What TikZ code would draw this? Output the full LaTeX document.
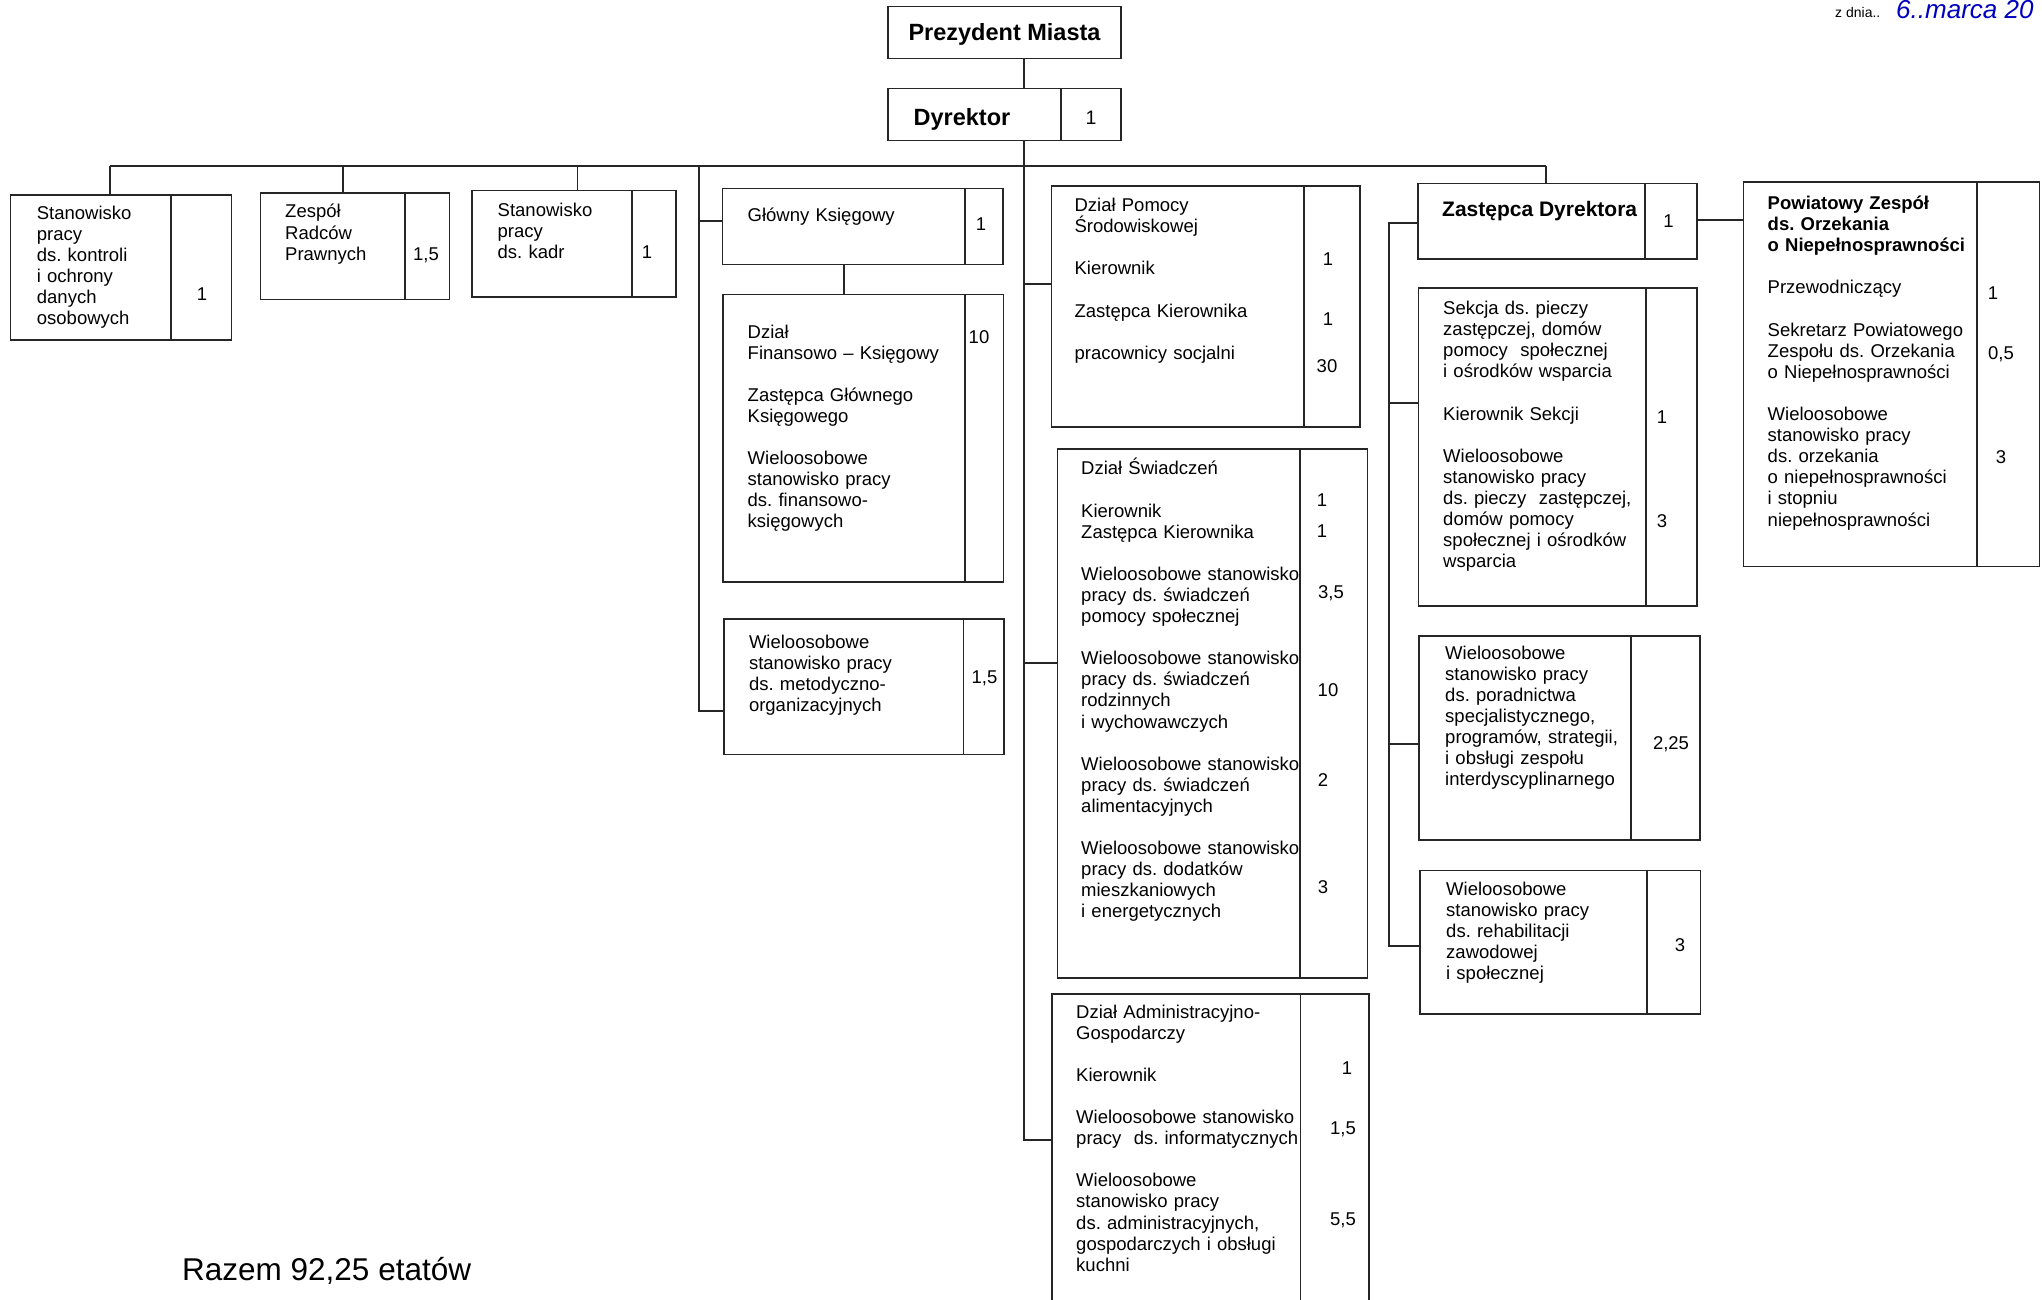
\documentclass[tikz,border=0pt]{standalone}
\usepackage{fontspec}
\setmainfont{Liberation Sans}
\frenchspacing
\newcommand\bodyf{\fontsize{18.5}{21.1}\selectfont\frenchspacing}
\newcommand\orgbox[6]{%
  \node[orgrect, minimum width={#4-#2}, minimum height={#5-#3}] (#1) at (#2,#3) {};
  \draw[ln] (#1.north -| #6,0) -- (#1.south -| #6,0);
}
\tikzset{
  ln/.style={line width=1.3pt, draw=black!85},
  orgrect/.style={ln, inner sep=0pt, outer sep=0pt, anchor=north west},
  txt/.style={anchor=base west, inner sep=0pt, text width=330pt, align=left, font=\bodyf},
  num/.style={anchor=base, inner sep=0pt, font=\bodyf},
}
\begin{document}
\begin{tikzpicture}[x=1pt,y=-1pt]
\useasboundingbox (0,0) rectangle (2042,1300);
\clip (0,0) rectangle (2042,1300);
\fill[white] (0,0) rectangle (2042,1300);

% ---- boxes ----
\node[orgrect, minimum width=233, minimum height=52] (pm) at (888,6.5) {};
\orgbox{dyr}{888}{88.6}{1121}{140.6}{1061}
\orgbox{b1}{10.5}{195}{231.5}{340}{171}
\orgbox{b2}{260.5}{193}{449.5}{299.5}{405}
\orgbox{b3}{472}{190.5}{676}{297}{632}
\orgbox{gk}{722.5}{188.5}{1003}{264.5}{965}
\orgbox{dfk}{723}{294.5}{1003.5}{582}{965}
\orgbox{met}{724}{619}{1004}{754.5}{963.5}
\orgbox{dps}{1051.5}{186}{1360}{427}{1304}
\orgbox{dsw}{1057.5}{449}{1367.5}{978}{1300}
\orgbox{adm}{1052}{994}{1369}{1320}{1300.5}
\orgbox{zd}{1418}{183.5}{1697}{259}{1645}
\orgbox{sek}{1418.5}{288}{1697}{606}{1646}
\orgbox{por}{1419}{636}{1700}{840}{1631}
\orgbox{reh}{1420}{870.5}{1700.5}{1014}{1647}
\orgbox{pz}{1743.5}{182}{2039.5}{566.5}{1977}

% ---- connectors ----
\coordinate (tk) at (1024,0);
\coordinate (tkend) at (1024,1140);
\coordinate (j1) at (1024,284);
\coordinate (j2) at (1024,663);
\draw[ln] (pm.south -| tk) -- (dyr.north -| tk);
\draw[ln] (dyr.south -| tk) -- (tkend) -- (tkend -| adm.west);
\draw[ln] (j1) -- (j1 -| dps.west);
\draw[ln] (j2) -- (j2 -| dsw.west);

\coordinate (busL) at (110,166);
\coordinate (busR) at (1546,166);
\coordinate (d2) at (343,166);
\coordinate (d3) at (577.5,166);
\coordinate (gkc) at (699,166);
\coordinate (gkj) at (699,221);
\coordinate (gkend) at (699,711);
\draw[ln] (busL) -- (busR);
\draw[ln] (busL) -- (busL |- b1.north);
\draw[ln] (d2) -- (d2 |- b2.north);
\draw[ln] (d3) -- (d3 |- b3.north);
\draw[ln] (gkc) -- (gkend) -- (gkend -| met.west);
\draw[ln] (gkj) -- (gkj -| gk.west);
\coordinate (gd) at (844,0);
\draw[ln] (gk.south -| gd) -- (dfk.north -| gd);

\draw[ln] (busR) -- (busR |- zd.north);
\coordinate (zl) at (1389,223);
\coordinate (zs) at (1389,403);
\coordinate (zp) at (1389,744);
\coordinate (zlend) at (1389,946);
\coordinate (zr) at (1720,220);
\draw[ln] (zl -| zd.west) -- (zl) -- (zlend) -- (zlend -| reh.west);
\draw[ln] (zs) -- (zs -| sek.west);
\draw[ln] (zp) -- (zp -| por.west);
\draw[ln] (zr -| zd.east) -- (zr -| pz.west);

% ---- texts ----
\node[anchor=base, inner sep=0pt, font=\fontsize{23.5}{26}\selectfont\bfseries] (tpm) at (1004.5,41) {Prezydent Miasta};
\node[anchor=base, inner sep=0pt, font=\fontsize{23.5}{26}\selectfont\bfseries] (tdyr) at (962,125.5) {Dyrektor};
\node[anchor=base, inner sep=0pt, font=\fontsize{19.5}{22}\selectfont] (ndyr) at (1091,124.5) {1};

\node[txt] (tb1) at (36.7,219.3) {Stanowisko\\pracy\\ds. kontroli\\i ochrony\\danych\\osobowych};
\node[num] (nb1) at (202,300) {1};

\node[txt] (tb2) at (285,218) {Zespół\\Radców\\Prawnych};
\node[num] (nb2) at (426,260) {1,5};

\node[txt] (tb3) at (497.5,216.5) {Stanowisko\\pracy\\ds. kadr};
\node[num] (nb3) at (647,258) {1};

\node[txt] (tgk) at (747.5,222) {Główny Księgowy};
\node[num] (ngk) at (981,230) {1};

\node[txt] (tdfk) at (747.5,338) {Dział\\Finansowo – Księgowy\\~\\Zastępca Głównego\\Księgowego\\~\\Wieloosobowe\\stanowisko pracy\\ds. finansowo-\\księgowych};
\node[num] (ndfk) at (979,343.5) {10};

\node[txt] (tmet) at (748.8,648) {Wieloosobowe\\stanowisko pracy\\ds. metodyczno-\\organizacyjnych};
\node[num] (nmet) at (984.5,683) {1,5};

\node[txt] (tdps) at (1074.4,211.5) {Dział Pomocy\\Środowiskowej\\~\\Kierownik\\~\\Zastępca Kierownika\\~\\pracownicy socjalni};
\node[num] (ndps1) at (1328,265.5) {1};
\node[num] (ndps2) at (1328,325) {1};
\node[num] (ndps3) at (1327,372) {30};

\node[txt] (tdsw) at (1081,474.8) {Dział Świadczeń\\~\\Kierownik\\Zastępca Kierownika\\~\\Wieloosobowe stanowisko\\pracy ds. świadczeń\\pomocy społecznej\\~\\Wieloosobowe stanowisko\\pracy ds. świadczeń\\rodzinnych\\i wychowawczych\\~\\Wieloosobowe stanowisko\\pracy ds. świadczeń\\alimentacyjnych\\~\\Wieloosobowe stanowisko\\pracy ds. dodatków\\mieszkaniowych\\i energetycznych};
\node[num] (ndsw1) at (1322,506) {1};
\node[num] (ndsw2) at (1322,537) {1};
\node[num] (ndsw3) at (1331,598.5) {3,5};
\node[num] (ndsw4) at (1328,696) {10};
\node[num] (ndsw5) at (1323,786) {2};
\node[num] (ndsw6) at (1323,893) {3};

\node[txt] (tadm) at (1076,1018) {Dział Administracyjno-\\Gospodarczy\\~\\Kierownik\\~\\Wieloosobowe stanowisko\\pracy\ \ ds. informatycznych\\~\\Wieloosobowe\\stanowisko pracy\\ds. administracyjnych,\\gospodarczych i obsługi\\kuchni};
\node[num] (nadm1) at (1347,1074) {1};
\node[num] (nadm2) at (1343,1134) {1,5};
\node[num] (nadm3) at (1343,1225) {5,5};

\node[anchor=base west, inner sep=0pt, font=\fontsize{21}{24}\selectfont\bfseries] (tzd) at (1442,216) {Zastępca Dyrektora};
\node[num] (nzd) at (1668.5,228) {1};

\node[txt] (tsek) at (1443,314.6) {Sekcja ds. pieczy\\zastępczej, domów\\pomocy\ \ społecznej\\i ośrodków wsparcia\\~\\Kierownik Sekcji\\~\\Wieloosobowe\\stanowisko pracy\\ds. pieczy\ \ zastępczej,\\domów pomocy\\społecznej i ośrodków\\wsparcia};
\node[num] (nsek1) at (1662,423) {1};
\node[num] (nsek2) at (1662,527) {3};

\node[txt] (tpor) at (1445,659) {Wieloosobowe\\stanowisko pracy\\ds. poradnictwa\\specjalistycznego,\\programów, strategii,\\i obsługi zespołu\\interdyscyplinarnego};
\node[num] (npor) at (1671,749) {2,25};

\node[txt] (treh) at (1446,895) {Wieloosobowe\\stanowisko pracy\\ds. rehabilitacji\\zawodowej\\i społecznej};
\node[num] (nreh) at (1680,951) {3};

\node[txt] (tpz) at (1767.5,209.5) {\textbf{Powiatowy Zespół}\\\textbf{ds. Orzekania}\\\textbf{o Niepełnosprawności}\\~\\Przewodniczący\\~\\Sekretarz Powiatowego\\Zespołu ds. Orzekania\\o Niepełnosprawności\\~\\Wieloosobowe\\stanowisko pracy\\ds. orzekania\\o niepełnosprawności\\i stopniu\\niepełnosprawności};
\node[num] (npz1) at (1993,299) {1};
\node[num] (npz2) at (2001,359) {0,5};
\node[num] (npz3) at (2001,463) {3};

\node[anchor=base west, inner sep=0pt, font=\fontsize{31.5}{34}\selectfont] (razem) at (182,1280) {Razem 92,25 etatów};

\node[anchor=base west, inner sep=0pt, font=\fontsize{14}{16}\selectfont] (hdr) at (1835,17.5) {z dnia..};
\node[anchor=base west, inner sep=0pt, font=\fontsize{26}{28}\selectfont\itshape, text=blue!75!black] (hand) at (1896,19) {6..marca 20};
\end{tikzpicture}
\end{document}
